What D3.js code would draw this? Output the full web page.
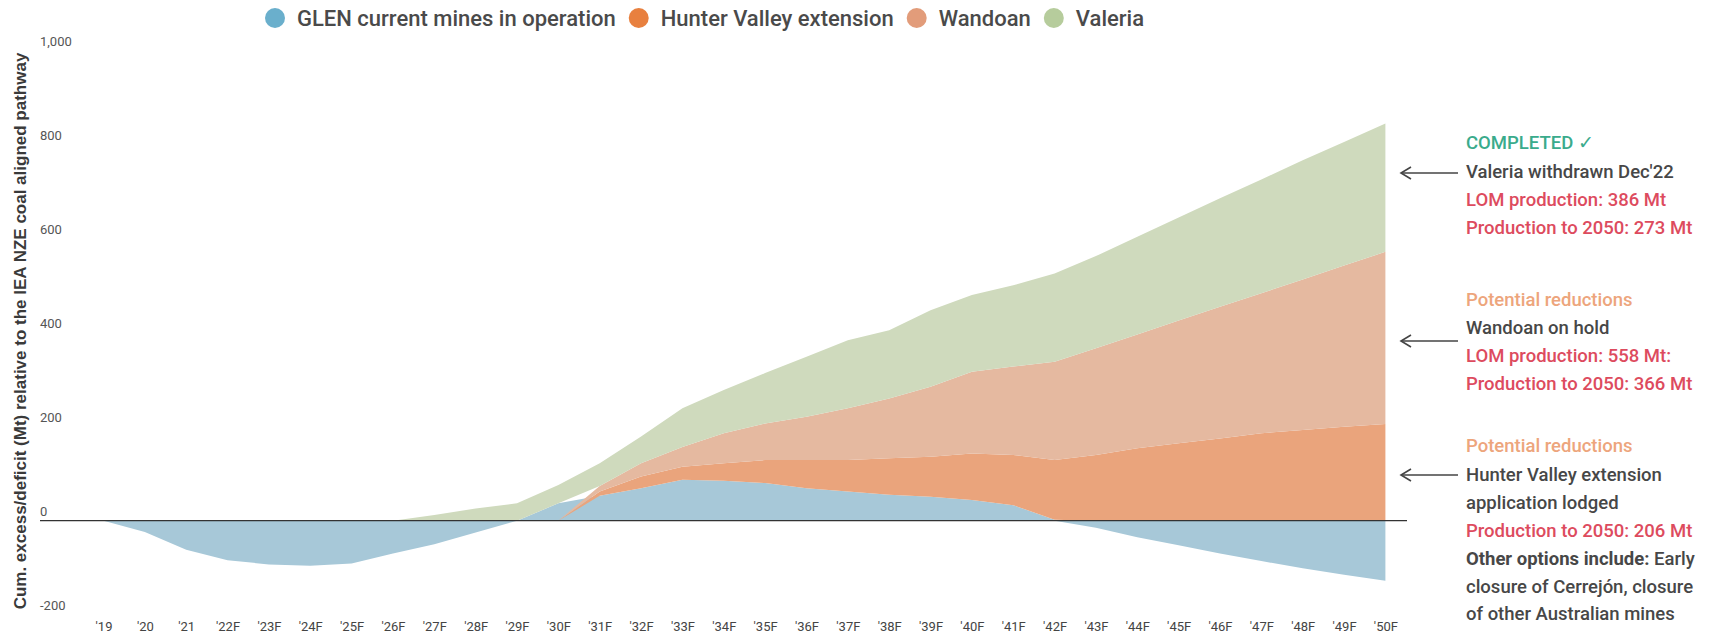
<!DOCTYPE html>
<html>
<head>
<meta charset="utf-8">
<title>GLEN cumulative excess/deficit vs IEA NZE pathway</title>
<script src="https://d3js.org/d3.v7.min.js"></script>
<style>
  body { margin: 0; background: #fff; }
  svg text { font-family: Roboto, "Noto Sans", sans-serif; }
</style>
</head>
<body>
<div id="chart"></div>
<script>
// data (Mt, each series on its own, stacked diverging)
var years = ["'19","'20","'21","'22F","'23F","'24F","'25F","'26F","'27F","'28F","'29F",
             "'30F","'31F","'32F","'33F","'34F","'35F","'36F","'37F","'38F","'39F",
             "'40F","'41F","'42F","'43F","'44F","'45F","'46F","'47F","'48F","'49F","'50F"];
var glen    = [0,-24,-62,-84,-93,-96,-91,-70,-50,-25,0,37,53,69,87,85,80,69,62,55,51,44,33,2,-15,-35,-52,-70,-86,-101,-115,-128];
var hunter  = [0,0,0,0,0,0,0,0,0,0,0,0,9,25,28,37,49,60,67,78,85,99,107,127,140,154,165,175,186,193,200,206];
var wandoan = [0,0,0,0,0,0,0,0,0,0,0,0,12,28,42,64,78,92,110,127,149,174,188,209,227,242,261,280,298,320,343,366];
var valeria = [0,0,0,0,0,0,0,0,12,26,37,39,48,57,82,92,107,128,145,145,163,163,173,188,196,208,219,231,242,254,263,273];

var seriesNames = ["GLEN current mines in operation", "Hunter Valley extension", "Wandoan", "Valeria"];
var areaColors  = ["#a7c8d8", "#eaa47c", "#e5b9a0", "#cfdabd"];
var dotColors   = ["#6aafcc", "#e8803f", "#e29c7a", "#b6cc9c"];
var yTicks = [1000, 800, 600, 400, 200, 0, -200];

var width = 1714, height = 635;

var svg = d3.select("#chart").append("svg")
    .attr("width", width)
    .attr("height", height);

var x = d3.scalePoint().domain(years).range([103.5, 1385.4]);
var y = d3.scaleLinear().domain([-200, 1000]).range([614.7, 50.7]);

// table for the stack
var table = years.map(function(yr, i) {
    var row = { year: yr };
    row[seriesNames[0]] = glen[i];
    row[seriesNames[1]] = hunter[i];
    row[seriesNames[2]] = wandoan[i];
    row[seriesNames[3]] = valeria[i];
    return row;
});

var stack = d3.stack().keys(seriesNames).offset(d3.stackOffsetDiverging);
var layers = stack(table);

var area = d3.area()
    .x(function(d) { return x(d.data.year); })
    .y0(function(d) { return y(d[0]); })
    .y1(function(d) { return y(d[1]); });

svg.append("g").selectAll("path")
    .data(layers)
    .enter().append("path")
    .attr("d", area)
    .attr("fill", function(d, i) { return areaColors[i]; });

// zero line
svg.append("line")
    .attr("x1", 40).attr("x2", 1407)
    .attr("y1", y(0)).attr("y2", y(0))
    .attr("stroke", "#333").attr("stroke-width", 1.2);

// y axis labels sit above their value
var fmt = d3.format(",");
var yAxis = svg.append("g")
    .attr("transform", "translate(40,0)")
    .call(d3.axisRight(y).tickValues(yTicks).tickSize(0).tickPadding(0)
        .tickFormat(function(d) { return fmt(d).replace("\u2212", "-"); }));
yAxis.select(".domain").remove();
yAxis.selectAll("text")
    .attr("dy", -5.5)
    .style("font-size", "13px")
    .attr("fill", "#555");

// x axis
var xAxis = svg.append("g")
    .attr("transform", "translate(0,619)")
    .call(d3.axisBottom(x).tickSize(0).tickPadding(3));
xAxis.select(".domain").remove();
xAxis.selectAll("text")
    .style("font-size", "13px")
    .attr("fill", "#444");

// y axis title
svg.append("text")
    .attr("transform", "translate(20," + 331 + ") rotate(-90)")
    .attr("text-anchor", "middle")
    .attr("dominant-baseline", "central")
    .style("font-family", "'Liberation Sans', Arial, sans-serif")
    .style("font-weight", "bold")
    .style("font-size", "17px")
    .attr("fill", "#3a3a3a")
    .text("Cum. excess/deficit (Mt) relative to the IEA NZE coal aligned pathway");

// legend
var legend = svg.append("g");
var lx = 275;
seriesNames.forEach(function(name, i) {
    legend.append("circle")
        .attr("cx", lx).attr("cy", 18).attr("r", 10)
        .attr("fill", dotColors[i]);
    var t = legend.append("text")
        .attr("x", lx + 22).attr("y", 18)
        .attr("dominant-baseline", "central")
        .style("font-size", "22px")
        .style("font-weight", "500")
        .attr("fill", "#4a4a4a")
        .text(name);
    lx = lx + 22 + t.node().getComputedTextLength() + 23;
});

// annotations on the right
var teal = "#3aab8c", grey = "#474747", red = "#dd4b5e", orange = "#eda57c";
var notes = [
    { y: 143, text: "COMPLETED \u2713", color: teal },
    { y: 172, text: "Valeria withdrawn Dec'22", color: grey },
    { y: 200, text: "LOM production: 386 Mt", color: red },
    { y: 228, text: "Production to 2050: 273 Mt", color: red },
    { y: 300, text: "Potential reductions", color: orange },
    { y: 328, text: "Wandoan on hold", color: grey },
    { y: 356, text: "LOM production: 558 Mt:", color: red },
    { y: 384, text: "Production to 2050: 366 Mt", color: red },
    { y: 446, text: "Potential reductions", color: orange },
    { y: 475, text: "Hunter Valley extension", color: grey },
    { y: 503, text: "application lodged", color: grey },
    { y: 531, text: "Production to 2050: 206 Mt", color: red },
    { y: 559, bold: "Other options include:", text: " Early", color: grey },
    { y: 587, text: "closure of Cerrej\u00f3n, closure", color: grey },
    { y: 614, text: "of other Australian mines", color: grey }
];
var noteG = svg.append("g");
notes.forEach(function(n) {
    var t = noteG.append("text")
        .attr("x", 1466).attr("y", n.y)
        .attr("dominant-baseline", "central")
        .style("font-size", "18.5px")
        .style("font-weight", "500")
        .attr("fill", n.color);
    if (n.bold) t.append("tspan").style("font-weight", "bold").text(n.bold);
    t.append("tspan").text(n.text);
});

var arrowYs = [173, 341, 475];
arrowYs.forEach(function(ay) {
    noteG.append("line")
        .attr("x1", 1458).attr("x2", 1401).attr("y1", ay).attr("y2", ay)
        .attr("stroke", "#444").attr("stroke-width", 1.6);
    noteG.append("path")
        .attr("d", "M1411," + (ay - 6) + "L1401," + ay + "L1411," + (ay + 6))
        .attr("fill", "none").attr("stroke", "#444").attr("stroke-width", 1.6);
});
</script>
</body>
</html>
